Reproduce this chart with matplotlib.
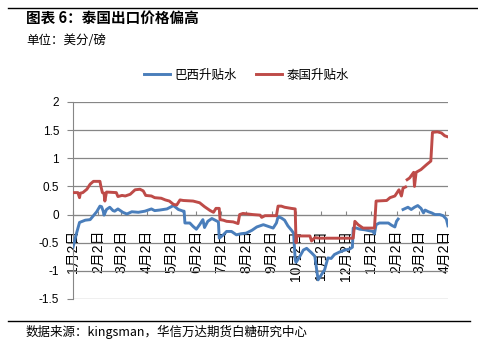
import numpy as np
import matplotlib
matplotlib.use("Agg")
import matplotlib.pyplot as plt
from matplotlib.lines import Line2D


plt.rcParams["font.family"] = ["Liberation Sans", "Noto Sans CJK SC", "DejaVu Sans"]
plt.rcParams["axes.unicode_minus"] = False

TITLE = "图表 6：泰国出口价格偏高"
UNIT = "单位：美分/磅"
SOURCE = "数据来源：kingsman，华信万达期货白糖研究中心"
SERIES_NAMES = ("巴西升贴水", "泰国升贴水")
SERIES_COLORS = ("#4A7EBB", "#BE4B48")

BRAZIL_DATES = [
	"2013-01-02", "2013-01-06", "2013-01-10", "2013-01-17", "2013-01-23", "2013-01-27",
	"2013-01-31", "2013-02-04", "2013-02-06", "2013-02-08", "2013-02-09", "2013-02-12",
	"2013-02-16", "2013-02-20", "2013-02-22", "2013-02-26", "2013-03-04", "2013-03-09",
	"2013-03-15", "2013-03-23", "2013-03-31", "2013-04-08", "2013-04-12", "2013-04-18",
	"2013-04-27", "2013-05-01", "2013-05-05", "2013-05-11", "2013-05-17", "2013-05-18",
	"2013-05-19", "2013-05-25", "2013-05-29", "2013-06-02", "2013-06-06", "2013-06-10",
	"2013-06-12", "2013-06-16", "2013-06-21", "2013-06-25", "2013-06-29", "2013-06-30",
	"2013-07-05", "2013-07-09", "2013-07-15", "2013-07-21", "2013-07-27", "2013-08-02",
	"2013-08-09", "2013-08-15", "2013-08-23", "2013-08-29", "2013-09-04", "2013-09-08",
	"2013-09-10", "2013-09-14", "2013-09-18", "2013-09-22", "2013-09-26", "2013-09-29",
	"2013-10-01", "2013-10-02", "2013-10-06", "2013-10-11", "2013-10-15", "2013-10-21",
	"2013-10-25", "2013-10-27", "2013-10-29", "2013-11-02", "2013-11-06", "2013-11-10",
	"2013-11-14", "2013-11-18", "2013-11-25", "2013-12-01", "2013-12-07", "2013-12-10",
	"2013-12-11", "2013-12-15", "2013-12-19", "2013-12-25", "2014-01-04", "2014-01-06",
	"2014-01-08", "2014-01-12", "2014-01-23", "2014-01-27", "2014-01-31", "2014-02-02",
	"2014-02-04", "2014-02-06", "2014-02-10", "2014-02-16", "2014-02-20", "2014-02-24",
	"2014-02-28", "2014-03-04", "2014-03-07", "2014-03-09", "2014-03-13", "2014-03-17",
	"2014-03-21", "2014-03-27", "2014-03-31", "2014-04-04", "2014-04-06",
]
BRAZIL_VALUES = [
	-0.58, -0.35, -0.14, -0.10, -0.09, -0.02,
	0.05, 0.15, 0.14, 0.06, -0.01, 0.09,
	0.13, 0.07, 0.06, 0.10, 0.04, 0.01,
	0.05, 0.04, 0.06, 0.10, 0.07, 0.08,
	0.10, 0.13, 0.16, 0.09, 0.06, 0.06,
	-0.15, -0.15, -0.21, -0.26, -0.18, -0.09,
	-0.23, -0.12, -0.07, -0.10, -0.13, -0.42,
	-0.36, -0.30, -0.30, -0.36, -0.34, -0.33,
	-0.28, -0.22, -0.18, -0.21, -0.24, -0.15,
	-0.04, -0.06, -0.10, -0.20, -0.27, -0.33,
	-0.80, -0.85, -0.76, -0.63, -0.60, -0.68,
	-0.74, -0.95, -1.16, -1.07, -0.98, -0.77,
	-0.78, -0.71, -0.66, -0.63, -0.61, -0.58,
	-0.24, -0.24, -0.26, -0.27, -0.30, -0.34,
	-0.18, -0.15, -0.15, -0.19, -0.22, -0.12,
	-0.08, np.nan, 0.09, 0.13, 0.09, 0.13,
	0.16, 0.11, 0.03, 0.08, 0.05, 0.03,
	0.00, 0.00, -0.02, -0.08, -0.20,
]

THAI_DATES = [
	"2013-01-02", "2013-01-08", "2013-01-10", "2013-01-11", "2013-01-14", "2013-01-19",
	"2013-01-23", "2013-01-27", "2013-02-04", "2013-02-05", "2013-02-07", "2013-02-09",
	"2013-02-10", "2013-02-12", "2013-02-24", "2013-02-26", "2013-03-03", "2013-03-07",
	"2013-03-13", "2013-03-19", "2013-03-25", "2013-03-29", "2013-04-01", "2013-04-08",
	"2013-04-12", "2013-04-20", "2013-04-25", "2013-04-30", "2013-05-05", "2013-05-09",
	"2013-05-13", "2013-05-17", "2013-05-29", "2013-06-06", "2013-06-12", "2013-06-19",
	"2013-06-23", "2013-06-26", "2013-06-30", "2013-07-01", "2013-07-05", "2013-07-09",
	"2013-07-17", "2013-07-23", "2013-07-25", "2013-07-29", "2013-08-10", "2013-08-19",
	"2013-08-21", "2013-08-25", "2013-09-08", "2013-09-10", "2013-09-14", "2013-09-18",
	"2013-09-26", "2013-10-01", "2013-10-02", "2013-10-03", "2013-10-19", "2013-10-21",
	"2013-10-25", "2013-10-31", "2013-12-11", "2013-12-13", "2013-12-17", "2013-12-23",
	"2014-01-06", "2014-01-08", "2014-01-21", "2014-01-25", "2014-01-31", "2014-02-05",
	"2014-02-08", "2014-02-10", "2014-02-13", "2014-02-14", "2014-02-15", "2014-02-18",
	"2014-02-23", "2014-02-24", "2014-02-26", "2014-03-04", "2014-03-11", "2014-03-16",
	"2014-03-18", "2014-03-24", "2014-03-29", "2014-04-02", "2014-04-06",
]
THAI_VALUES = [
	0.39, 0.39, 0.30, 0.38, 0.39, 0.45,
	0.54, 0.59, 0.59, 0.51, 0.39, 0.38,
	0.24, 0.40, 0.39, 0.32, 0.34, 0.33,
	0.36, 0.44, 0.45, 0.42, 0.34, 0.33,
	0.30, 0.29, 0.26, 0.24, 0.18, 0.17,
	0.26, 0.25, 0.24, 0.21, 0.14, 0.07,
	0.04, 0.11, 0.11, -0.09, -0.10, -0.12,
	-0.13, -0.16, 0.00, 0.02, 0.00, -0.01,
	-0.05, -0.02, -0.02, 0.15, 0.15, 0.13,
	0.11, 0.10, -0.50, -0.38, -0.38, -0.47,
	-0.41, -0.42, -0.42, -0.12, -0.18, -0.24,
	-0.24, 0.24, 0.25, 0.30, 0.33, 0.44,
	0.33, 0.47, 0.49, np.nan, 0.62, 0.65,
	0.75, 0.50, 0.75, 0.80, 0.89, 0.95,
	1.46, 1.47, 1.45, 1.40, 1.38,
]

TICK_DATES = [
	"2013-01-02", "2013-02-02", "2013-03-02", "2013-04-02", "2013-05-02", "2013-06-02",
	"2013-07-02", "2013-08-02", "2013-09-02", "2013-10-02", "2013-11-02", "2013-12-02",
	"2014-01-02", "2014-02-02", "2014-03-02", "2014-04-02",
]
TICK_LABELS = [
	"1月2日", "2月2日", "3月2日", "4月2日", "5月2日", "6月2日", "7月2日", "8月2日",
	"9月2日", "10月2日", "11月2日", "12月2日", "1月2日", "2月2日", "3月2日", "4月2日",
]
Y_TICKS = [-1.5, -1.0, -0.5, 0.0, 0.5, 1.0, 1.5, 2.0]
Y_LABELS = ["-1.5", "-1", "-0.5", "0", "0.5", "1", "1.5", "2"]
X_LIMITS = ("2013-01-02", "2014-04-06")

FIGURE_SIZE = (4.78, 3.57)
GRID_COLOR = "#868686"


def as_dates(values: list[str]) -> np.ndarray:
	"""Turn ISO date strings into numpy day values."""

	return np.array(values, dtype="datetime64[D]")


def main() -> None:
	fig = plt.figure(figsize=FIGURE_SIZE, dpi=100)
	ax = fig.add_axes([0.1527, 0.1625, 0.7845, 0.5518])

	series = (
		(BRAZIL_DATES, BRAZIL_VALUES),
		(THAI_DATES, THAI_VALUES),
	)
	for (dates, values), name, color in zip(series, SERIES_NAMES, SERIES_COLORS):
		ax.plot(as_dates(dates), values, color=color, linewidth=2.1, label=name,
			solid_joinstyle="round", zorder=3)

	ax.set_ylim(Y_TICKS[0], Y_TICKS[-1])
	ax.set_xlim(*as_dates(list(X_LIMITS)))
	ax.set_yticks(Y_TICKS)
	ax.set_yticklabels(Y_LABELS, fontsize=8.5)
	ax.yaxis.grid(True, color=GRID_COLOR, linewidth=0.9)
	ax.set_axisbelow(True)

	ax.set_xticks(as_dates(TICK_DATES))
	ax.set_xticklabels(TICK_LABELS, fontsize=7.1)
	ax.tick_params(axis="x", direction="in", length=3, color=GRID_COLOR, pad=11,
		labelrotation=90)
	ax.tick_params(axis="y", direction="out", length=4, color=GRID_COLOR, pad=6)

	for side in ("top", "right"):
		ax.spines[side].set_visible(False)
	ax.spines["left"].set_color(GRID_COLOR)
	ax.spines["bottom"].set_position(("data", 0))
	ax.spines["bottom"].set_color(GRID_COLOR)

	handles = [Line2D([], [], color=c, linewidth=2.1) for c in SERIES_COLORS]
	fig.legend(handles, SERIES_NAMES, loc="center", bbox_to_anchor=(0.515, 0.79),
		ncol=2, frameon=False, handlelength=2.1, columnspacing=1.5,
		handletextpad=0.35, prop={"family": ["Noto Sans CJK SC"], "size": 9})

	fig.text(26 / 478, 1 - 18 / 357, TITLE, fontsize=10.5, fontweight="bold",
		va="center", ha="left", family=["Noto Sans CJK SC"])
	fig.text(26 / 478, 1 - 40 / 357, UNIT, fontsize=9, va="center", ha="left",
		family=["Noto Sans CJK SC"])
	fig.text(26 / 478, 1 - 332 / 357, SOURCE, fontsize=9, va="center", ha="left",
		family=["Noto Sans CJK SC"])

	fig.add_artist(Line2D([8 / 478, 1.0], [1 - 8 / 357] * 2, color="black", linewidth=1.0))
	fig.add_artist(Line2D([8 / 478, 470 / 478], [1 - 321 / 357] * 2, color="black", linewidth=1.0))

	fig.savefig("out.png", dpi=100)


if __name__ == "__main__":
	main()
